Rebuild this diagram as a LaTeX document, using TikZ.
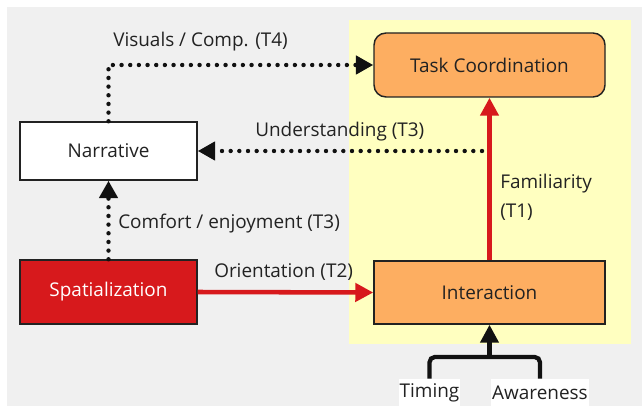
\documentclass[tikz,border=0pt]{standalone}
\usepackage{fontspec}
\setmainfont{Open Sans}
\usetikzlibrary{arrows.meta}
\definecolor{bggrey}{HTML}{F0F0F0}
\definecolor{zoneyellow}{HTML}{FFFFC0}
\definecolor{boxorange}{HTML}{FDAE61}
\definecolor{boxred}{HTML}{D7191C}
\definecolor{ink}{HTML}{222222}
\definecolor{linkblack}{HTML}{111111}
\begin{document}
\begin{tikzpicture}[x=0.75pt,y=-0.75pt,
  font=\fontsize{14.2}{16}\selectfont, text=ink,
  box/.style={draw=ink, line width=1.1pt, inner sep=0pt},
  lbl/.style={anchor=base west, inner sep=0pt},
  tag/.style={fill=white, inner sep=0pt, minimum height=20.25pt},
  redarrow/.style={draw=boxred, line width=3.4pt, -{Triangle[length=13.5pt,width=13.5pt]}},
  dotarrow/.style={draw=linkblack, line width=3.3pt, line cap=round, dash pattern=on 0pt off 6.5pt, -{Triangle[length=13pt,width=13.5pt]}},
  brk/.style={draw=linkblack, line width=3.2pt, rounded corners=4pt},
  brkarrow/.style={draw=linkblack, line width=3.2pt, -{Triangle[length=13.5pt,width=13.5pt]}}]
\useasboundingbox (0,0) rectangle (642,406);
\fill[bggrey] (7,7) rectangle (642,406);
\fill[zoneyellow] (349,20) rectangle (631,344);

\node[box, fill=boxorange, rounded corners=9pt, minimum width=173.25pt, minimum height=48pt] (task) at (489.5,65) {Task Coordination};
\node[box, fill=boxorange, minimum width=173.25pt, minimum height=47.25pt] (inter) at (489.5,292.5) {Interaction};
\node[box, fill=white, minimum width=132.75pt, minimum height=43.5pt] (narr) at (108.5,151) {Narrative};
\node[box, fill=boxred, text=white, minimum width=132.75pt, minimum height=48pt] (spat) at (108.5,292) {Spatialization};

\draw[redarrow] (spat.east) -- (inter.west);
\draw[redarrow] (inter.north) -- (task.south);

\coordinate (ustart) at (482,151);
\draw[dotarrow] (ustart) -- (narr.east);
\coordinate (vcorner) at (108.5,65);
\draw[dotarrow] (narr.north) -- (vcorner) -- (task.west);
\draw[dotarrow] (spat.north) -- (narr.south);

\node[lbl] (lvis) at (113,47) {Visuals / Comp. (T4)};
\node[lbl] (lund) at (255,137) {Understanding (T3)};
\node[lbl] (lcom) at (118,228) {Comfort / enjoyment (T3)};
\node[lbl] (lori) at (214,277) {Orientation (T2)};
\node[lbl] (lfam) at (500,189) {Familiarity};
\node[lbl] (lt1) at (500,217) {(T1)};

\node[tag, minimum width=45.75pt] (tim) at (429.5,392.5) {Timing};
\node[tag, minimum width=73.5pt] (awa) at (540,392.5) {Awareness};
\coordinate (bjoin) at (489.5,357);
\draw[brk] (tim.north) |- (bjoin) -| (awa.north);
\draw[brkarrow] (bjoin) -- (inter.south);
\end{tikzpicture}
\end{document}
